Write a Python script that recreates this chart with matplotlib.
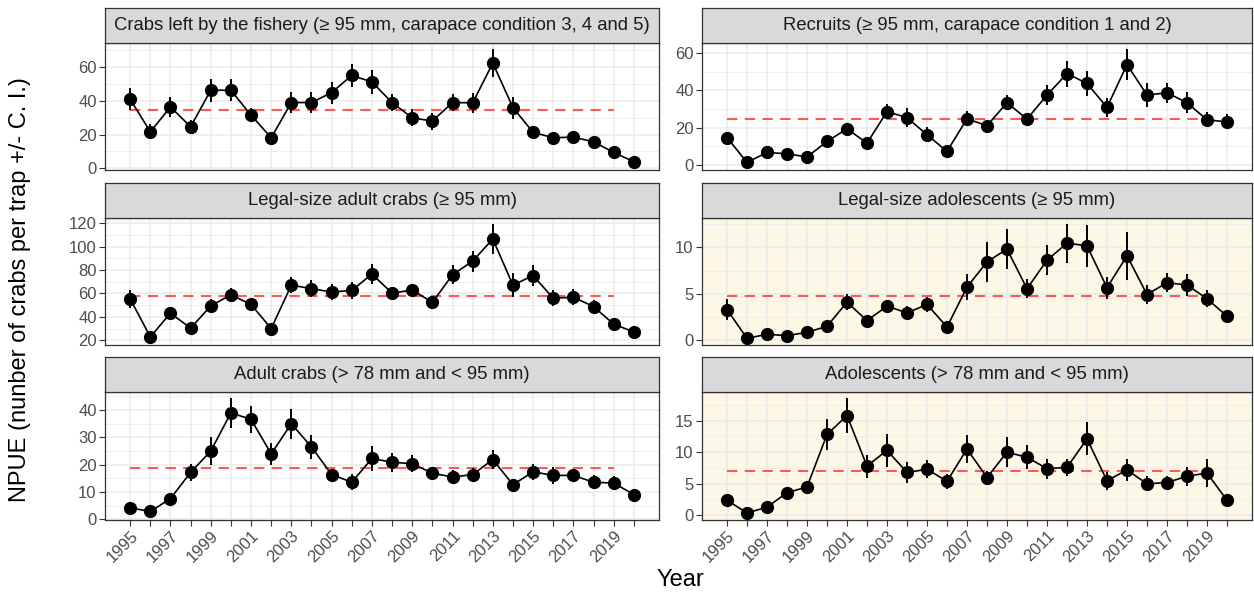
import matplotlib
matplotlib.use("Agg")
import matplotlib.pyplot as plt
from matplotlib.ticker import MultipleLocator
import numpy as np

plt.rcParams["font.family"] = ["Liberation Sans", "DejaVu Sans"]

years = list(range(1995, 2021))
year_labels = [str(y) if y % 2 == 1 else "" for y in years]

titles = [
    "Crabs left by the fishery (\u2265 95 mm, carapace condition 3, 4 and 5)",
    "Recruits (\u2265 95 mm, carapace condition 1 and 2)",
    "Legal-size adult crabs (\u2265 95 mm)",
    "Legal-size adolescents (\u2265 95 mm)",
    "Adult crabs (> 78 mm and < 95 mm)",
    "Adolescents (> 78 mm and < 95 mm)",
]

left_by_fishery = [41, 21.6, 36.4, 24.6, 46.3, 46.3, 31.5, 18.1, 39, 39, 44.9, 55.1, 51.2,
                   39, 29.9, 28, 39, 38.8, 62.4, 36, 21.3, 18.1, 18.5, 15.7, 9.4, 3.9]
left_by_fishery_ci = [6.5, 4.5, 6, 4, 6.7, 6.5, 4, 2, 6, 6, 6.5, 7, 7,
                      5, 5, 5, 5, 6, 8.5, 6.5, 2, 2, 2.5, 2.5, 2, 1.5]

recruits = [14.7, 1.4, 6.7, 6.0, 4.3, 12.6, 19.4, 11.7, 28.6, 25.4, 16.2, 7.3, 24.7,
            21.1, 33.4, 24.6, 37.5, 49.0, 43.7, 30.9, 53.8, 37.5, 38.7, 33.4, 24.2, 23.1]
recruits_ci = [3, 1, 1.5, 1.5, 1.5, 2, 2.5, 2, 4, 5, 4, 1.5, 4,
               3, 4, 3, 5.5, 7, 6.5, 5, 8.5, 6.5, 5.5, 5.5, 4, 4]

legal_adults = [55.3, 22.9, 43.2, 30.3, 49.4, 58.8, 50.6, 30, 67.1, 64.1, 61.2, 62.6, 76.5,
                60.3, 62.9, 52.4, 75.9, 87.6, 106.5, 67.1, 75.3, 55.9, 56.8, 48.8, 33.8, 27.1]
legal_adults_ci = [8, 2, 5, 3, 6, 6, 5, 2.5, 7, 7, 7, 7, 8.5,
                   5.5, 5, 5, 8, 9, 13, 10, 9, 7, 7, 6, 3, 2]

legal_adolescents = [3.27, 0.15, 0.58, 0.44, 0.8, 1.45, 4.07, 2.07, 3.64, 2.9, 3.82, 1.38, 5.7,
                     8.44, 9.82, 5.53, 8.62, 10.47, 10.18, 5.64, 9.1, 4.9, 6.18, 5.93, 4.44, 2.55]
legal_adolescents_ci = [1.1, 0.1, 0.2, 0.2, 0.3, 0.3, 0.9, 0.4, 0.6, 0.8, 0.8, 0.3, 1.4,
                        2.2, 2.2, 1.0, 1.6, 2.1, 2.3, 1.2, 2.6, 1.0, 1.0, 1.2, 0.9, 0.4]

adults = [4.2, 2.9, 7.6, 17.2, 25, 39, 36.6, 24, 35, 26.5, 16.4, 13.6, 22.3,
          20.9, 20.4, 16.9, 15.5, 16.4, 21.9, 12.7, 17.4, 16.1, 16.1, 13.6, 13.3, 9.1]
adults_ci = [0.8, 1.0, 1, 3, 5, 5.5, 5, 4, 5.5, 4.5, 2, 3, 4.5,
             3.5, 3, 2, 2.5, 2.5, 3.5, 1.5, 3, 3, 2.5, 2.5, 2.5, 1.2]

adolescents = [2.4, 0.4, 1.3, 3.6, 4.5, 12.8, 15.8, 7.8, 10.3, 6.8, 7.3, 5.4, 10.5,
               6.0, 10.0, 9.2, 7.4, 7.6, 12.1, 5.5, 7.2, 5.0, 5.2, 6.2, 6.7, 2.4]
adolescents_ci = [0.4, 0.2, 0.3, 0.5, 0.5, 2.5, 2.8, 1.8, 2.6, 1.7, 1.4, 1.2, 2.2,
                  1.1, 2.4, 1.9, 1.6, 1.4, 2.6, 1.4, 1.8, 1.2, 1.0, 1.5, 2.2, 0.3]

# long-term mean (1995-2019) drawn as a dashed reference line
reference_means = [34.3, 24.5, 58.2, 4.76, 18.8, 7.05]
reference_span = [1995, 2019]

series = [left_by_fishery, recruits, legal_adults, legal_adolescents, adults, adolescents]
series_ci = [left_by_fishery_ci, recruits_ci, legal_adults_ci, legal_adolescents_ci,
             adults_ci, adolescents_ci]
y_steps = [20, 20, 20, 5, 10, 5]
cream_panels = [False, False, False, True, False, True]

W, H = 1254, 595
fig = plt.figure(figsize=(W / 100, H / 100), dpi=100)

col_x = [(105, 659), (702, 1252)]
row_y = [(43, 170), (218, 345), (392, 520)]
strip_h = 35

grid_col = "#EBEBEB"
frame_col = "#333333"
tick_col = "#4D4D4D"

for i in range(6):
    r, c = divmod(i, 2)
    x0, x1 = col_x[c]
    yt, yb = row_y[r]
    ax = fig.add_axes([x0 / W, 1 - yb / H, (x1 - x0) / W, (yb - yt) / H])
    sax = fig.add_axes([x0 / W, 1 - yt / H, (x1 - x0) / W, strip_h / H])

    vals = np.array(series[i])
    ci = np.array(series_ci[i])
    lo, hi = (vals - ci).min(), (vals + ci).max()
    pad = 0.05 * (hi - lo)
    ax.set_ylim(lo - pad, hi + pad)
    ax.set_xlim(1995 - 1.25, 2020 + 1.25)

    ax.set_facecolor("#FDF7E6" if cream_panels[i] else "white")
    ax.yaxis.set_major_locator(MultipleLocator(y_steps[i]))
    ax.yaxis.set_minor_locator(MultipleLocator(y_steps[i] / 2))
    ax.set_xticks(years)
    ax.grid(True, which="major", color=grid_col, lw=1.1, zorder=0)
    ax.grid(True, which="minor", axis="y", color=grid_col, lw=0.55, zorder=0)
    ax.set_axisbelow(True)
    ax.tick_params(which="minor", length=0)
    ax.tick_params(which="major", length=4, width=0.8, color=frame_col,
                   labelcolor=tick_col, labelsize=12, pad=2)
    for sp in ax.spines.values():
        sp.set_color(frame_col)
        sp.set_linewidth(0.9)

    ax.plot(reference_span, [reference_means[i]] * 2, color="#FF3B3B", alpha=0.85,
            lw=1.5, dashes=(5, 3.5), zorder=2)
    ax.vlines(years, vals - ci, vals + ci, color="black", lw=1.4, zorder=3)
    ax.plot(years, vals, color="black", lw=1.2, zorder=3)
    ax.plot(years, vals, "o", color="black", ms=8.5, zorder=4)

    if r == 2:
        ax.set_xticklabels(year_labels, rotation=45, ha="right", rotation_mode="anchor")
    else:
        ax.tick_params(axis="x", length=0, labelbottom=False)

    sax.set_facecolor("#D9D9D9")
    sax.set_xticks([])
    sax.set_yticks([])
    for sp in sax.spines.values():
        sp.set_color(frame_col)
        sp.set_linewidth(0.9)
    sax.text(0.5, 0.5, titles[i], ha="center", va="center", fontsize=13.3,
             color="#1A1A1A", transform=sax.transAxes)

fig.text(20 / W, 1 - 290 / H, "NPUE (nunber of crabs per trap +/- C. I.)",
         rotation=90, ha="center", va="center", fontsize=17, color="black")
fig.text(680 / W, 1 - 580 / H, "Year", ha="center", va="center",
         fontsize=17, color="black")

fig.savefig("out.png", dpi=100)
